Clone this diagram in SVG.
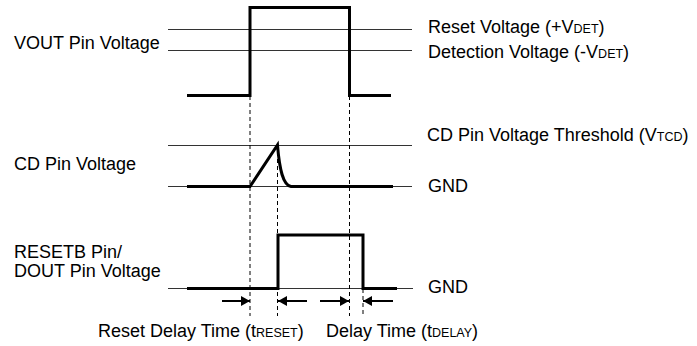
<svg xmlns="http://www.w3.org/2000/svg" width="697" height="346" viewBox="0 0 697 346">
<defs>
<marker id="ah" markerWidth="9" markerHeight="10" refX="9" refY="5" orient="auto" markerUnits="userSpaceOnUse">
<path d="M0,0 L9,5 L0,10 Z" fill="#000"/>
</marker>
<style>
text{font-family:"Liberation Sans",Arial,sans-serif;font-size:18px;fill:#000}
.sub{font-size:12.5px}
.thin{stroke:#333;stroke-width:1;fill:none}
.thick{stroke:#000;stroke-width:3;fill:none;stroke-linejoin:miter}
.dash{stroke:#000;stroke-width:1;stroke-dasharray:4,3;fill:none}
.arr{stroke:#000;stroke-width:2;fill:none}
</style>
</defs>
<rect width="697" height="346" fill="#fff"/>
<g id="reference-lines">
<line class="thin" x1="168" y1="29.5" x2="412" y2="29.5"/>
<line class="thin" x1="168" y1="50.5" x2="412" y2="50.5"/>
<line class="thin" x1="168" y1="145.5" x2="412" y2="145.5"/>
<line class="thin" x1="168" y1="186.5" x2="412" y2="186.5"/>
<line class="thin" x1="168" y1="288.5" x2="413" y2="288.5"/>
</g>
<g id="dashed-markers">
<line class="dash" x1="250" y1="96" x2="250" y2="316"/>
<line class="dash" x1="349.5" y1="96" x2="349.5" y2="316"/>
<line class="dash" x1="277.5" y1="145" x2="277.5" y2="316"/>
<line class="dash" x1="363" y1="289" x2="363" y2="316"/>
</g>
<g id="vout-waveform">
<path class="thick" d="M187,95.5 H250 V7.5 H349.5 V95.5 H391"/>
</g>
<g id="cd-waveform">
<path class="thick" d="M187,186.5 H250 L277.5,145 C279.5,170 283,185 291,186.5 H393"/>
</g>
<g id="resetb-waveform">
<path class="thick" d="M187,288.5 H278 V235 H363 V288.5 H397"/>
</g>
<g id="connectors">
<line class="arr" x1="222" y1="301" x2="250" y2="301" marker-end="url(#ah)"/>
<line class="arr" x1="307" y1="301" x2="278" y2="301" marker-end="url(#ah)"/>
<line class="arr" x1="320" y1="301" x2="349" y2="301" marker-end="url(#ah)"/>
<line class="arr" x1="393" y1="301" x2="363" y2="301" marker-end="url(#ah)"/>
</g>
<g id="labels">
<text x="14" y="49">VOUT Pin Voltage</text>
<text x="14" y="170">CD Pin Voltage</text>
<text x="14" y="258">RESETB Pin/</text>
<text x="14" y="277">DOUT Pin Voltage</text>
<text x="428" y="33">Reset Voltage (+V<tspan class="sub">DET</tspan>)</text>
<text x="428" y="58">Detection Voltage (-V<tspan class="sub">DET</tspan>)</text>
<text x="427" y="141">CD Pin Voltage Threshold (V<tspan class="sub">TCD</tspan>)</text>
<text x="428" y="192">GND</text>
<text x="428" y="293">GND</text>
<text x="98" y="337">Reset Delay Time (t<tspan class="sub">RESET</tspan>)</text>
<text x="326" y="337">Delay Time (t<tspan class="sub">DELAY</tspan>)</text>
</g>
</svg>
